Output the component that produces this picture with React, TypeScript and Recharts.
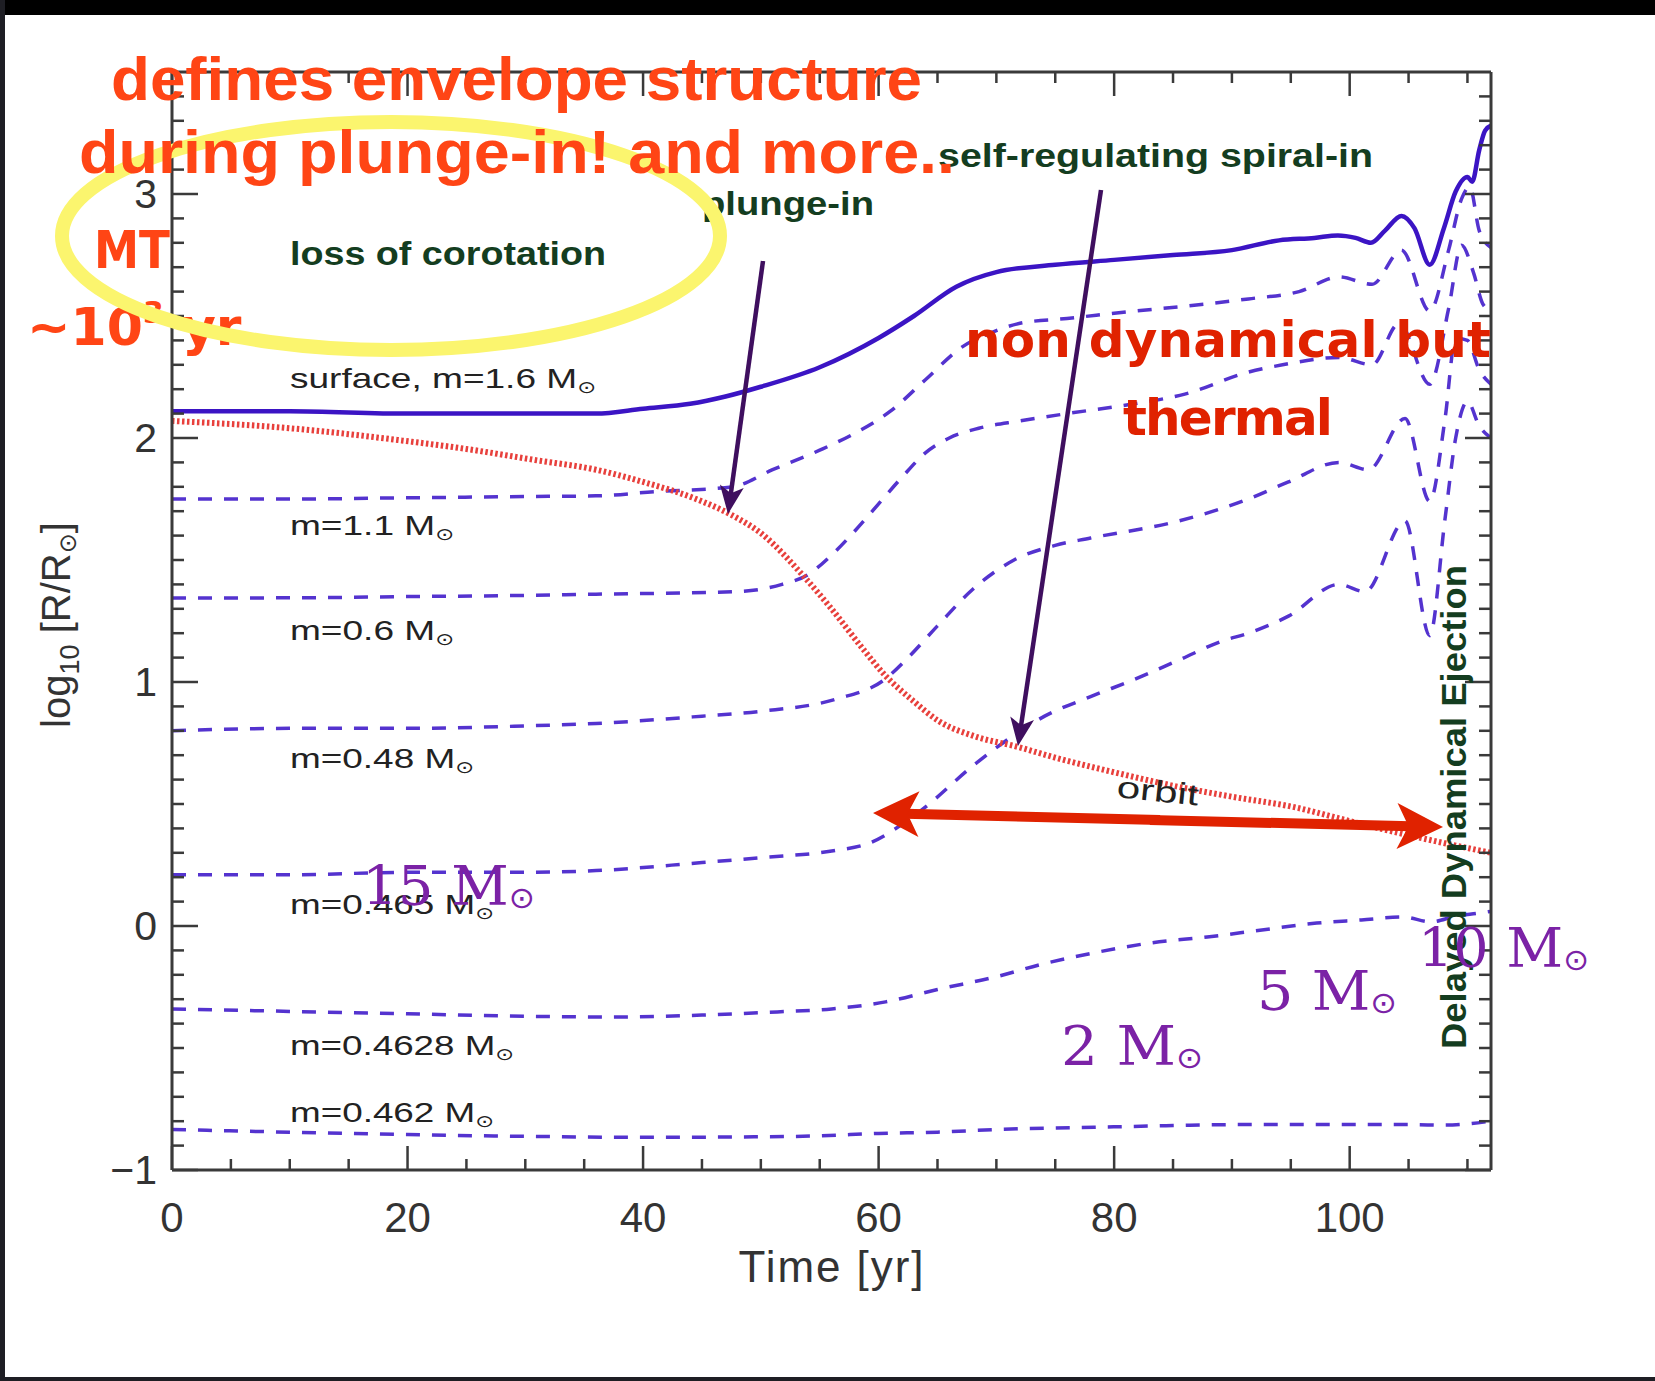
import React from 'react';
import { LineChart, Line, XAxis, YAxis } from 'recharts';

// log10(R/Rsun) against time [yr] as [time, value]
const surface: [number, number][] = [
  [0, 2.11], [10, 2.11], [20, 2.1], [30, 2.1], [36, 2.1], [40, 2.12], [44, 2.14], [47, 2.17],
  [50, 2.21], [55, 2.29], [60, 2.41], [63, 2.5], [66.6, 2.62], [70, 2.68], [75, 2.71], [80, 2.73],
  [85, 2.75], [90, 2.77], [94, 2.81], [97, 2.82], [99, 2.83], [100.5, 2.82], [101.8, 2.8], [103, 2.85],
  [104.4, 2.91], [105.5, 2.86], [106.8, 2.71], [108, 2.86], [109, 3.01], [110, 3.07], [110.4, 3.05],
  [111, 3.18], [111.5, 3.26], [112, 3.28],
];
const shell11: [number, number][] = [
  [0, 1.75], [10, 1.75], [20, 1.755], [30, 1.76], [36, 1.763], [41, 1.78], [47.6, 1.8], [51, 1.87],
  [55, 1.95], [58, 2.02], [61, 2.11], [64, 2.24], [67, 2.37], [70, 2.44], [72, 2.47], [76, 2.49],
  [81.7, 2.52], [86, 2.54], [91.4, 2.57], [95.7, 2.6], [99.1, 2.66], [101.9, 2.63], [104.4, 2.77],
  [106.8, 2.52], [108.4, 2.77], [109.5, 2.98], [110.2, 3.03], [111, 2.85], [112, 2.78],
];
const shell06: [number, number][] = [
  [0, 1.344], [10, 1.345], [20, 1.35], [30, 1.355], [36, 1.36], [47.7, 1.37], [51.8, 1.4], [54, 1.44],
  [56, 1.52], [58, 1.62], [60, 1.73], [62, 1.84], [64, 1.94], [66, 2.0], [68.5, 2.04], [72, 2.07],
  [76, 2.1], [81.7, 2.14], [86, 2.18], [91.4, 2.27], [94.3, 2.3], [99.1, 2.33], [101.9, 2.3],
  [104.2, 2.47], [106.8, 2.22], [108.4, 2.53], [109.5, 2.79], [110.5, 2.68], [111.3, 2.55], [112, 2.52],
];
const shell048: [number, number][] = [
  [0, 0.8], [10, 0.81], [20, 0.81], [30, 0.82], [36, 0.83], [45, 0.86], [50, 0.88], [56.4, 0.93],
  [60.5, 1.01], [62.5, 1.1], [65, 1.23], [68, 1.38], [71.5, 1.5], [75, 1.56], [78, 1.59], [85.5, 1.66],
  [91.4, 1.75], [94.8, 1.82], [99.1, 1.9], [101.6, 1.87], [104.7, 2.08], [106.8, 1.74], [108.1, 2.08],
  [109, 2.41], [110, 2.4], [111, 2.28], [112, 2.22],
];
const shell0465: [number, number][] = [
  [0, 0.21], [10, 0.21], [20, 0.22], [30, 0.22], [36, 0.227], [45, 0.26], [50, 0.28], [56.4, 0.31],
  [59, 0.336], [63.5, 0.47], [68.1, 0.66], [70.4, 0.745], [74.1, 0.86], [78, 0.94], [81.7, 1.01],
  [85.5, 1.09], [89.3, 1.17], [91.4, 1.2], [94.8, 1.27], [99.1, 1.4], [101.3, 1.37], [104.7, 1.66],
  [106.8, 1.19], [108.1, 1.67], [109, 2.0], [110, 2.15], [111, 2.05], [112, 2.0],
];
const shell04628: [number, number][] = [
  [0, -0.34], [10, -0.35], [20, -0.36], [30, -0.37], [37.3, -0.373], [45, -0.365], [51.4, -0.352],
  [56, -0.34], [60.6, -0.311], [65, -0.26], [69.9, -0.209], [74, -0.155], [78.7, -0.106], [83, -0.07],
  [87.9, -0.045], [92, -0.02], [97.2, 0.012], [101, 0.025], [104.5, 0.037], [106.9, 0.017], [109, 0.04],
  [110.8, 0.052], [112, 0.06],
];
const shell0462: [number, number][] = [
  [0, -0.834], [10, -0.845], [20, -0.855], [30, -0.862], [40, -0.866], [50, -0.864], [55, -0.86],
  [60, -0.85], [65, -0.845], [70, -0.834], [75, -0.828], [80, -0.823], [85, -0.818], [90, -0.814],
  [100, -0.814], [105, -0.814], [108, -0.816], [112, -0.8],
];
const orbit: [number, number][] = [
  [0, 2.07], [10, 2.04], [19.5, 1.99], [25, 1.955], [30.8, 1.91], [36, 1.87], [40, 1.82], [44.5, 1.75],
  [47.3, 1.69], [50, 1.61], [53.7, 1.43], [56, 1.3], [58.6, 1.14], [60.5, 1.03], [63, 0.92],
  [65.1, 0.84], [68, 0.78], [71.9, 0.733], [75, 0.69], [80, 0.63], [85.5, 0.57], [90, 0.53],
  [95.3, 0.487], [100, 0.43], [104.3, 0.38], [108, 0.34], [112, 0.3],
];

const shellSeries = [shell11, shell06, shell048, shell0465, shell04628, shell0462];
const shellLabels = ['surface, m=1.6', 'm=1.1', 'm=0.6', 'm=0.48', 'm=0.465', 'm=0.4628', 'm=0.462'];
const massLabels = ['15', '10', '5', '2'];

const xTicks = [0, 5, 10, 15, 20, 25, 30, 35, 40, 45, 50, 55, 60, 65, 70, 75, 80, 85, 90, 95, 100, 105, 110];
const xTickLabels = [0, 20, 40, 60, 80, 100];
const yTickLabels = [-1, 0, 1, 2, 3];
const yTicks = Array.from({ length: 45 }, (_, i) => Math.round((-1 + i * 0.1) * 10) / 10);

const toRows = (pts: [number, number][]) => pts.map(([t, v]) => ({ t, v }));

const AX = '#3a3a3a';
const SANS = '"Liberation Sans", Arial, sans-serif';
const ORANGE = '#ff4515';
const GREEN = '#143d20';
const PURPLE = '#7b22a6';
const RED = '#e02200';
const DARKARROW = '#3f0f5f';

const isMajorY = (v: number) => Math.abs(v - Math.round(v)) < 1e-6;

const BottomTick = ({ x, y, payload }: any) => {
  const major = xTickLabels.includes(payload.value);
  return (
    <g>
      <line x1={x} x2={x} y1={y} y2={y - (major ? 24 : 11)} stroke={AX} strokeWidth={2.5} />
      {major && (
        <text x={x} y={y + 62} textAnchor="middle" fontSize={42} fontFamily={SANS} fill="#333">
          {payload.value}
        </text>
      )}
    </g>
  );
};

const TopTick = ({ x, y, payload }: any) => {
  const major = xTickLabels.includes(payload.value);
  return <line x1={x} x2={x} y1={y} y2={y + (major ? 24 : 11)} stroke={AX} strokeWidth={2.5} />;
};

const LeftTick = ({ x, y, payload }: any) => {
  const major = isMajorY(payload.value);
  return (
    <g>
      <line x1={x} x2={x + (major ? 26 : 12)} y1={y} y2={y} stroke={AX} strokeWidth={2.5} />
      {major && yTickLabels.includes(Math.round(payload.value)) && (
        <text x={x - 15} y={y + 14} textAnchor="end" fontSize={41} fontFamily={SANS} fill="#333">
          {payload.value < 0 ? `\u2212${Math.abs(payload.value)}` : payload.value}
        </text>
      )}
    </g>
  );
};

const RightTick = ({ x, y, payload }: any) => {
  const major = isMajorY(payload.value);
  return <line x1={x} x2={x - (major ? 26 : 12)} y1={y} y2={y} stroke={AX} strokeWidth={2.5} />;
};

function Arrow({ x1, y1, x2, y2, color, width, len, half }: any) {
  const dx = x2 - x1;
  const dy = y2 - y1;
  const d = Math.hypot(dx, dy);
  const ux = dx / d;
  const uy = dy / d;
  const bx = x2 - ux * len;
  const by = y2 - uy * len;
  const nx = bx + ux * len * 0.25;
  const ny = by + uy * len * 0.25;
  return (
    <g>
      <line x1={x1} y1={y1} x2={x2 - ux * len * 0.7} y2={y2 - uy * len * 0.7} stroke={color} strokeWidth={width} />
      <polygon
        points={`${x2},${y2} ${bx - uy * half},${by + ux * half} ${nx},${ny} ${bx + uy * half},${by - ux * half}`}
        fill={color}
      />
    </g>
  );
}

function Sun({ size, dy }: { size: number; dy: number }) {
  return (
    <tspan fontFamily='"DejaVu Sans", sans-serif' fontSize={size} dy={dy}>
      {'\u2299'}
    </tspan>
  );
}

function Overlay() {
  const shellY = [388, 535, 640, 768, 914, 1055, 1122];
  const shellW = [306, 164, 164, 184, 204, 224, 204];
  const massPos = [
    { x: 362, y: 905, w: 173 },
    { x: 1418, y: 967, w: 171 },
    { x: 1257, y: 1010, w: 140 },
    { x: 1061, y: 1065, w: 142 },
  ];
  return (
    <svg width={1655} height={1381} style={{ position: 'absolute', left: 0, top: 0, pointerEvents: 'none' }}>
      {/* black labels beside each shell */}
      {shellLabels.map((s, i) => (
        <text key={s} x={290} y={shellY[i]} fontSize={28} fontFamily={SANS} fill="#222" textLength={shellW[i]} lengthAdjust="spacingAndGlyphs">
          {s} M
          <Sun size={17} dy={5} />
        </text>
      ))}
      <text x={1116} y={797} fontSize={30} fontFamily={SANS} fill="#222" transform="rotate(6 1116 797)" textLength={82} lengthAdjust="spacingAndGlyphs">
        orbit
      </text>

      {/* green phase labels */}
      <g fontFamily={SANS} fontWeight="bold" fill={GREEN}>
        <text x={290} y={265} fontSize={33} textLength={316} lengthAdjust="spacingAndGlyphs">loss of corotation</text>
        <text x={702} y={215} fontSize={33} textLength={172} lengthAdjust="spacingAndGlyphs">plunge-in</text>
        <text x={938} y={167} fontSize={33} textLength={435} lengthAdjust="spacingAndGlyphs">self-regulating spiral-in</text>
        <text x={1466} y={1049} fontSize={35} textLength={484} lengthAdjust="spacingAndGlyphs" transform="rotate(-90 1466 1049)">
          Delayed Dynamical Ejection
        </text>
      </g>

      {/* axis titles */}
      <text x={831} y={1282} textAnchor="middle" fontSize={44} fontFamily={SANS} fill="#333" textLength={185}>
        Time [yr]
      </text>
      <text x={70} y={625} textAnchor="middle" fontSize={40} fontFamily={SANS} fill="#333" transform="rotate(-90 70 625)">
        log
        <tspan fontSize={27} dy={9}>10</tspan>
        <tspan dy={-9}> [R/R</tspan>
        <Sun size={24} dy={6} />
        <tspan dy={-6}>]</tspan>
      </text>

      {/* orange notes on the left */}
      <g fontFamily='"DejaVu Sans", sans-serif' fontWeight="bold" fill={ORANGE}>
        <text x={94} y={268} fontSize={52} textLength={76} lengthAdjust="spacingAndGlyphs">MT</text>
        <text x={27} y={345} fontSize={52}>
          ~10<tspan fontSize={30} dy={-22}>3</tspan>
          <tspan dy={22}> yr</tspan>
        </text>
      </g>
      <ellipse cx={391} cy={236} rx={329} ry={114} fill="none" stroke="#fbf56e" strokeWidth={14} />
      <g fontFamily='"Liberation Sans Narrow", "Liberation Sans", Arial, sans-serif' fontWeight="bold" fill={ORANGE} fontSize={61}>
        <text x={111} y={100} textLength={811} lengthAdjust="spacingAndGlyphs">defines envelope structure</text>
        <text x={79} y={173} textLength={876} lengthAdjust="spacingAndGlyphs">during plunge-in! and more..</text>
      </g>

      {/* red note */}
      <g fontFamily='"DejaVu Sans", sans-serif' fontWeight="bold" fill={RED} fontSize={50}>
        <text x={965} y={357} textLength={526}>non dynamical but</text>
        <text x={1123} y={435} textLength={210}>thermal</text>
      </g>

      {/* arrows */}
      <Arrow x1={763} y1={261} x2={728} y2={514} color={DARKARROW} width={4.5} len={28} half={12} />
      <Arrow x1={1101} y1={190} x2={1018} y2={746} color={DARKARROW} width={4.5} len={28} half={12} />
      <Arrow x1={1160} y1={820} x2={873} y2={813} color={RED} width={10} len={46} half={23} />
      <Arrow x1={1150} y1={820} x2={1443} y2={827} color={RED} width={10} len={46} half={23} />

      {/* purple mass labels */}
      {massLabels.map((m, i) => (
        <text key={m} x={massPos[i].x} y={massPos[i].y} fontSize={54} fontFamily='"DejaVu Serif", serif' fill={PURPLE} textLength={massPos[i].w} lengthAdjust="spacingAndGlyphs">
          {m} M
          <Sun size={30} dy={3} />
        </text>
      ))}

      {/* slide frame */}
      <rect x={0} y={0} width={1655} height={15} fill="#000" />
      <rect x={0} y={0} width={5} height={1381} fill="#1e1e24" />
      <rect x={0} y={1377} width={1655} height={4} fill="#1e1e24" />
    </svg>
  );
}

export default function App() {
  return (
    <div style={{ position: 'absolute', left: 0, top: 0, width: 1655, height: 1381, background: '#fff', overflow: 'hidden' }}>
      <LineChart width={1655} height={1381} margin={{ top: 42, right: 104, bottom: 151, left: 112 }}>
        <XAxis
          xAxisId="b"
          type="number"
          dataKey="t"
          domain={[0, 112]}
          ticks={xTicks}
          interval={0}
          allowDataOverflow
          height={60}
          tickSize={0}
          tickMargin={0}
          tickLine={false}
          axisLine={{ stroke: AX, strokeWidth: 3 }}
          tick={<BottomTick />}
        />
        <XAxis
          xAxisId="t"
          orientation="top"
          type="number"
          dataKey="t"
          domain={[0, 112]}
          ticks={xTicks}
          interval={0}
          allowDataOverflow
          height={30}
          tickSize={0}
          tickMargin={0}
          tickLine={false}
          axisLine={{ stroke: AX, strokeWidth: 3 }}
          tick={<TopTick />}
        />
        <YAxis
          yAxisId="l"
          type="number"
          domain={[-1, 3.5]}
          ticks={yTicks}
          interval={0}
          allowDataOverflow
          width={60}
          tickSize={0}
          tickMargin={0}
          tickLine={false}
          axisLine={{ stroke: AX, strokeWidth: 3 }}
          tick={<LeftTick />}
        />
        <YAxis
          yAxisId="r"
          orientation="right"
          type="number"
          domain={[-1, 3.5]}
          ticks={yTicks}
          interval={0}
          allowDataOverflow
          width={60}
          tickSize={0}
          tickMargin={0}
          tickLine={false}
          axisLine={{ stroke: AX, strokeWidth: 3 }}
          tick={<RightTick />}
        />
        {shellSeries.map((s, i) => (
          <Line
            key={i}
            xAxisId="b"
            yAxisId="l"
            data={toRows(s)}
            dataKey="v"
            type="monotone"
            stroke="#5433cf"
            strokeWidth={3.5}
            strokeDasharray="14 12"
            dot={false}
            isAnimationActive={false}
          />
        ))}
        <Line
          xAxisId="b"
          yAxisId="l"
          data={toRows(orbit)}
          dataKey="v"
          type="monotone"
          stroke="#e8403c"
          strokeWidth={6}
          strokeDasharray="2.5 2.5"
          dot={false}
          isAnimationActive={false}
        />
        <Line
          xAxisId="b"
          yAxisId="l"
          data={toRows(surface)}
          dataKey="v"
          type="monotone"
          stroke="#3b14c4"
          strokeWidth={4.5}
          dot={false}
          isAnimationActive={false}
        />
      </LineChart>
      <Overlay />
    </div>
  );
}
